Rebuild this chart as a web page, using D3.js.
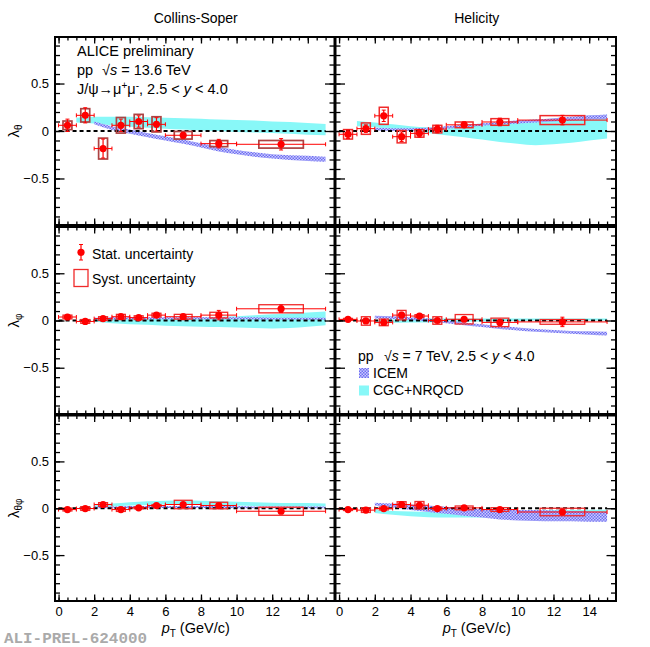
<!DOCTYPE html>
<html><head><meta charset="utf-8">
<script src="https://cdn.jsdelivr.net/npm/d3@7"></script>
<style>
body{margin:0;background:#fff}
svg{display:block}
text{font-family:"Liberation Sans",Arial,Helvetica,sans-serif}
</style>
</head><body><div id="chart"></div>
<script>
// ---------------- DATA ----------------
const ptCenters = [0.5, 1.5, 2.5, 3.5, 4.5, 5.5, 7, 9, 12.5];
const binLow    = [0, 1, 2, 3, 4, 5, 6, 8, 10];
const binHigh   = [1, 2, 3, 4, 5, 6, 8, 10, 15];

// Collins-Soper lambda_theta
const csThVal  = [0.06, 0.165, -0.185, 0.06, 0.10, 0.07, -0.045, -0.133, -0.14];
const csThStat = [0.065, 0.08, 0.10, 0.065, 0.06, 0.07, 0.03, 0.045, 0.06];
const csThSyst = [0.045, 0.07, 0.11, 0.082, 0.075, 0.08, 0.04, 0.032, 0.04];
// Helicity lambda_theta
const hxThVal  = [-0.035, 0.025, 0.16, -0.06, -0.025, 0.02, 0.065, 0.095, 0.115];
const hxThStat = [0.045, 0.04, 0.06, 0.05, 0.04, 0.04, 0.03, 0.04, 0.05];
const hxThSyst = [0.05, 0.06, 0.09, 0.065, 0.04, 0.04, 0.03, 0.035, 0.047];
// Collins-Soper lambda_phi
const csPhVal  = [0.037, -0.01, 0.02, 0.04, 0.03, 0.057, 0.04, 0.057, 0.124];
const csPhStat = [0.02, 0.02, 0.02, 0.02, 0.02, 0.02, 0.02, 0.05, 0.04];
const csPhSyst = [0.02, 0.02, 0.02, 0.025, 0.02, 0.02, 0.025, 0.03, 0.043];
// Helicity lambda_phi
const hxPhVal  = [0.012, -0.005, -0.02, 0.057, 0.047, 0.0, 0.013, -0.02, -0.015];
const hxPhStat = [0.02, 0.02, 0.02, 0.03, 0.02, 0.02, 0.02, 0.03, 0.05];
const hxPhSyst = [0.01, 0.045, 0.035, 0.05, 0.015, 0.04, 0.05, 0.045, 0.025];
// Collins-Soper lambda_thetaphi
const csTpVal  = [-0.014, -0.003, 0.04, -0.014, 0.004, 0.029, 0.04, 0.029, -0.032];
const csTpStat = [0.015, 0.015, 0.015, 0.015, 0.015, 0.015, 0.02, 0.02, 0.025];
const csTpSyst = [0.015, 0.02, 0.02, 0.02, 0.01, 0.01, 0.045, 0.035, 0.043];
// Helicity lambda_thetaphi
const hxTpVal  = [-0.014, -0.02, -0.003, 0.04, 0.032, -0.003, 0.004, -0.014, -0.04];
const hxTpStat = [0.015, 0.015, 0.015, 0.02, 0.02, 0.015, 0.015, 0.02, 0.03];
const hxTpSyst = [0.01, 0.025, 0.015, 0.03, 0.04, 0.015, 0.02, 0.02, 0.04];

// Model bands (pp 7 TeV)
const cgcPtTop = [1, 2, 3, 4, 5, 6, 7, 8, 9, 10, 11, 12, 13, 14, 15];
const modelPt  = [2, 3, 4, 5, 6, 7, 8, 9, 10, 11, 12, 13, 14, 15];

const csThCgcHi  = [0.14, 0.15, 0.15, 0.15, 0.145, 0.14, 0.135, 0.13, 0.12, 0.115, 0.11, 0.10, 0.095, 0.085, 0.075];
const csThCgcLo  = [0.09, 0.08, 0.06, 0.045, 0.035, 0.025, 0.015, 0.005, 0.0, -0.01, -0.015, -0.02, -0.03, -0.04, -0.045];
const csThIcemHi = [0.10, 0.05, 0.015, -0.02, -0.055, -0.09, -0.13, -0.165, -0.20, -0.225, -0.245, -0.255, -0.26, -0.27];
const csThIcemLo = [0.07, 0.01, -0.03, -0.065, -0.10, -0.135, -0.175, -0.215, -0.245, -0.27, -0.29, -0.305, -0.315, -0.325];

const hxThCgcHi  = [0.105, 0.09, 0.07, 0.05, 0.04, 0.04, 0.06, 0.08, 0.09, 0.11, 0.12, 0.13, 0.14, 0.16, 0.17];
const hxThCgcLo  = [0.05, 0.04, 0.02, 0.0, -0.02, -0.045, -0.065, -0.09, -0.115, -0.135, -0.15, -0.14, -0.125, -0.10, -0.08];
const hxThIcemHi = [0.035, 0.03, 0.03, 0.035, 0.05, 0.065, 0.08, 0.095, 0.11, 0.12, 0.135, 0.15, 0.165, 0.175];
const hxThIcemLo = [0.005, 0.0, 0.0, 0.01, 0.025, 0.04, 0.055, 0.07, 0.08, 0.09, 0.10, 0.11, 0.12, 0.13];

const csPhCgcHi  = [0.01, 0.015, 0.02, 0.022, 0.025, 0.028, 0.032, 0.038, 0.045, 0.055, 0.065, 0.075, 0.085, 0.095];
const csPhCgcLo  = [-0.01, -0.03, -0.04, -0.045, -0.055, -0.06, -0.065, -0.07, -0.075, -0.08, -0.085, -0.08, -0.065, -0.05];
const csPhIcemHi = [0.03, 0.035, 0.035, 0.035, 0.035, 0.035, 0.035, 0.035, 0.035, 0.035, 0.03, 0.03, 0.03, 0.03];
const csPhIcemLo = [0.01, 0.01, 0.012, 0.012, 0.012, 0.012, 0.012, 0.012, 0.012, 0.01, 0.01, 0.01, 0.008, 0.008];

const hxPhCgcHi  = [0.0, 0.01, 0.015, 0.02, 0.02, 0.02, 0.02, 0.02, 0.02, 0.02, 0.02, 0.02, 0.02, 0.02];
const hxPhCgcLo  = [-0.025, -0.025, -0.02, -0.02, -0.015, -0.01, -0.01, -0.005, -0.005, 0.0, 0.0, 0.0, 0.0, 0.0];
const hxPhIcemHi = [0.05, 0.045, 0.035, 0.02, 0.0, -0.02, -0.04, -0.06, -0.075, -0.09, -0.10, -0.11, -0.115, -0.12];
const hxPhIcemLo = [0.02, 0.015, 0.005, -0.01, -0.03, -0.05, -0.07, -0.09, -0.105, -0.12, -0.13, -0.14, -0.15, -0.16];

const csTpCgcHi  = [0.03, 0.05, 0.065, 0.075, 0.08, 0.085, 0.08, 0.075, 0.07, 0.065, 0.06, 0.055, 0.055, 0.05];
const csTpCgcLo  = [0.01, 0.02, 0.03, 0.035, 0.04, 0.04, 0.035, 0.03, 0.03, 0.025, 0.025, 0.02, 0.02, 0.02];
const csTpIcemHi = [0.02, 0.02, 0.025, 0.025, 0.025, 0.025, 0.025, 0.025, 0.025, 0.02, 0.02, 0.02, 0.02, 0.02];
const csTpIcemLo = [0.0, 0.0, 0.0, 0.002, 0.002, 0.002, 0.002, 0.002, 0.0, 0.0, 0.0, 0.0, 0.0, 0.0];

const hxTpCgcHi  = [-0.02, -0.03, -0.035, -0.04, -0.04, -0.04, -0.035, -0.03, -0.03, -0.025, -0.02, -0.02, -0.015, -0.015];
const hxTpCgcLo  = [-0.05, -0.07, -0.085, -0.095, -0.10, -0.10, -0.10, -0.10, -0.095, -0.09, -0.09, -0.085, -0.08, -0.08];
const hxTpIcemHi = [0.06, 0.05, 0.04, 0.03, 0.015, 0.0, -0.01, -0.015, -0.02, -0.02, -0.025, -0.03, -0.035, -0.04];
const hxTpIcemLo = [0.03, 0.01, -0.02, -0.04, -0.06, -0.08, -0.10, -0.12, -0.13, -0.135, -0.14, -0.14, -0.145, -0.145];

// Axis ticks / labels
const xTickLabels = [0, 2, 4, 6, 8, 10, 12, 14];
const yTickLabels = [-0.5, 0, 0.5];
const frameTitles = ["Collins-Soper", "Helicity"];
const yTitleSubs  = ["θ", "φ", "θφ"];

// ---------------- LAYOUT ----------------
const W = 650, H = 647;
const colX = [[55, 334.5], [335.5, 616]];
const rowY = [[37, 225], [227, 414], [415.5, 601]];
const xDomain = [-0.2, 15.5], yDomain = [-0.99, 0.99];

const svg = d3.select("#chart").append("svg").attr("width", W).attr("height", H);
svg.append("rect").attr("width", W).attr("height", H).attr("fill", "#fff");
const defs = svg.append("defs");
const pat = defs.append("pattern").attr("id", "icemPat").attr("patternUnits", "userSpaceOnUse")
  .attr("width", 3).attr("height", 3);
pat.append("rect").attr("width", 3).attr("height", 3).attr("fill", "#cbcbfd");
pat.append("rect").attr("width", 1.5).attr("height", 1.5).attr("fill", "#6e6ef2");
pat.append("rect").attr("x", 1.5).attr("y", 1.5).attr("width", 1.5).attr("height", 1.5).attr("fill", "#6e6ef2");

const CYAN = "#88f8f8";
const FONT = "Liberation Sans, Arial, sans-serif";

const panels = [
  {col:0,row:0,val:csThVal,stat:csThStat,syst:csThSyst,cgcPt:cgcPtTop,cgcHi:csThCgcHi,cgcLo:csThCgcLo,icHi:csThIcemHi,icLo:csThIcemLo,box:"#ad4242",bw:1.7},
  {col:1,row:0,val:hxThVal,stat:hxThStat,syst:hxThSyst,cgcPt:cgcPtTop,cgcHi:hxThCgcHi,cgcLo:hxThCgcLo,icHi:hxThIcemHi,icLo:hxThIcemLo,box:"#f02a2a",bw:1.5},
  {col:0,row:1,val:csPhVal,stat:csPhStat,syst:csPhSyst,cgcPt:modelPt,cgcHi:csPhCgcHi,cgcLo:csPhCgcLo,icHi:csPhIcemHi,icLo:csPhIcemLo,box:"#f02a2a",bw:1.3},
  {col:1,row:1,val:hxPhVal,stat:hxPhStat,syst:hxPhSyst,cgcPt:modelPt,cgcHi:hxPhCgcHi,cgcLo:hxPhCgcLo,icHi:hxPhIcemHi,icLo:hxPhIcemLo,box:"#f02a2a",bw:1.3},
  {col:0,row:2,val:csTpVal,stat:csTpStat,syst:csTpSyst,cgcPt:modelPt,cgcHi:csTpCgcHi,cgcLo:csTpCgcLo,icHi:csTpIcemHi,icLo:csTpIcemLo,box:"#f02a2a",bw:1.3},
  {col:1,row:2,val:hxTpVal,stat:hxTpStat,syst:hxTpSyst,cgcPt:modelPt,cgcHi:hxTpCgcHi,cgcLo:hxTpCgcLo,icHi:hxTpIcemHi,icLo:hxTpIcemLo,box:"#f02a2a",bw:1.3},
];

function styleAxis(g, w) {
  g.select(".domain").remove();
  g.selectAll(".tick line").attr("stroke", "#000").attr("stroke-width", w || 1.3);
}

panels.forEach((p, i) => {
  const [x0, x1] = colX[p.col];
  const [y0, y1] = rowY[p.row];
  const x = d3.scaleLinear().domain(xDomain).range([x0, x1]);
  const y = d3.scaleLinear().domain(yDomain).range([y1, y0]);

  const clipId = "clip" + i;
  defs.append("clipPath").attr("id", clipId).append("rect")
    .attr("x", x0).attr("y", y0).attr("width", x1 - x0).attr("height", y1 - y0);
  const g = svg.append("g").attr("clip-path", `url(#${clipId})`);

  const area = d3.area().curve(d3.curveMonotoneX)
    .x(d => x(d.pt)).y0(d => y(d.lo)).y1(d => y(d.hi));
  const cgc = p.cgcPt.map((pt, k) => ({pt, lo: p.cgcLo[k], hi: p.cgcHi[k]}));
  const icem = modelPt.map((pt, k) => ({pt, lo: p.icLo[k], hi: p.icHi[k]}));
  g.append("path").datum(cgc).attr("d", area).attr("fill", CYAN);
  g.append("path").datum(icem).attr("d", area).attr("fill", "url(#icemPat)");

  // zero dashed line
  g.append("line").attr("x1", x(0)).attr("x2", x(15)).attr("y1", y(0)).attr("y2", y(0))
    .attr("stroke", "#000").attr("stroke-width", 2).attr("stroke-dasharray", "4,3");

  const pts = ptCenters.map((pt, k) => ({pt, lo: binLow[k], hi: binHigh[k], v: p.val[k], s: p.stat[k], sy: p.syst[k]}));
  // syst boxes
  g.selectAll(".sys").data(pts).enter().append("rect")
    .attr("x", d => x(d.pt - (d.hi - d.lo) / 4))
    .attr("width", d => x(d.pt + (d.hi - d.lo) / 4) - x(d.pt - (d.hi - d.lo) / 4))
    .attr("y", d => y(d.v + d.sy))
    .attr("height", d => y(d.v - d.sy) - y(d.v + d.sy))
    .attr("fill", "none").attr("stroke", p.box).attr("stroke-width", p.bw);
  // horizontal error bars
  const red = "#ff0000";
  g.selectAll(".xe").data(pts).enter().append("line")
    .attr("x1", d => x(d.lo)).attr("x2", d => x(d.hi))
    .attr("y1", d => y(d.v)).attr("y2", d => y(d.v))
    .attr("stroke", red).attr("stroke-width", 1);
  g.selectAll(".xc1").data(pts).enter().append("line")
    .attr("x1", d => x(d.lo)).attr("x2", d => x(d.lo))
    .attr("y1", d => y(d.v) - 2).attr("y2", d => y(d.v) + 2)
    .attr("stroke", red).attr("stroke-width", 1);
  g.selectAll(".xc2").data(pts).enter().append("line")
    .attr("x1", d => x(d.hi)).attr("x2", d => x(d.hi))
    .attr("y1", d => y(d.v) - 2).attr("y2", d => y(d.v) + 2)
    .attr("stroke", red).attr("stroke-width", 1);
  // vertical stat error bars
  g.selectAll(".ye").data(pts).enter().append("line")
    .attr("x1", d => x(d.pt)).attr("x2", d => x(d.pt))
    .attr("y1", d => y(d.v + d.s)).attr("y2", d => y(d.v - d.s))
    .attr("stroke", red).attr("stroke-width", 1.2);
  g.selectAll(".yc1").data(pts).enter().append("line")
    .attr("x1", d => x(d.pt) - 2).attr("x2", d => x(d.pt) + 2)
    .attr("y1", d => y(d.v + d.s)).attr("y2", d => y(d.v + d.s))
    .attr("stroke", red).attr("stroke-width", 1);
  g.selectAll(".yc2").data(pts).enter().append("line")
    .attr("x1", d => x(d.pt) - 2).attr("x2", d => x(d.pt) + 2)
    .attr("y1", d => y(d.v - d.s)).attr("y2", d => y(d.v - d.s))
    .attr("stroke", red).attr("stroke-width", 1);
  g.selectAll(".mk").data(pts).enter().append("circle")
    .attr("cx", d => x(d.pt)).attr("cy", d => y(d.v)).attr("r", 3.6).attr("fill", red);

  // ticks (inward on all sides)
  const xMinor = d3.range(0, 15.01, 0.5);
  const yMinor = d3.range(-9, 10, 1).map(v => v / 10);
  svg.append("g").attr("transform", `translate(0,${y1})`)
    .call(d3.axisBottom(x).tickValues(xMinor).tickSize(-3.5).tickFormat("")).call(a => styleAxis(a));
  svg.append("g").attr("transform", `translate(0,${y0})`)
    .call(d3.axisTop(x).tickValues(xMinor).tickSize(-3.5).tickFormat("")).call(a => styleAxis(a));
  svg.append("g").attr("transform", `translate(0,${y0})`)
    .call(d3.axisTop(x).tickValues(xTickLabels).tickSize(-6.5).tickFormat("")).call(a => styleAxis(a));
  const xb = svg.append("g").attr("transform", `translate(0,${y1})`)
    .call(d3.axisBottom(x).tickValues(xTickLabels).tickSize(-6.5).tickPadding(5.5)
      .tickFormat(p.row === 2 ? d3.format("d") : ""));
  styleAxis(xb);
  xb.selectAll("text").attr("font-size", 13).attr("font-family", FONT).attr("fill", "#000");

  svg.append("g").attr("transform", `translate(${x0},0)`)
    .call(d3.axisLeft(y).tickValues(yMinor).tickSize(-5).tickFormat("")).call(a => styleAxis(a));
  svg.append("g").attr("transform", `translate(${x1},0)`)
    .call(d3.axisRight(y).tickValues(yMinor).tickSize(-5).tickFormat("")).call(a => styleAxis(a));
  svg.append("g").attr("transform", `translate(${x1},0)`)
    .call(d3.axisRight(y).tickValues(yTickLabels).tickSize(-9.5).tickFormat("")).call(a => styleAxis(a));
  const yl = svg.append("g").attr("transform", `translate(${x0},0)`)
    .call(d3.axisLeft(y).tickValues(yTickLabels).tickSize(-9.5).tickPadding(6)
      .tickFormat(p.col === 0 ? (v => v === 0 ? "0" : d3.format(".1f")(v)) : ""));
  styleAxis(yl);
  yl.selectAll("text").attr("font-size", 13).attr("font-family", FONT).attr("fill", "#000");

  // frame
  svg.append("rect").attr("x", x0).attr("y", y0).attr("width", x1 - x0).attr("height", y1 - y0)
    .attr("fill", "none").attr("stroke", "#000").attr("stroke-width", 2);

  // y title on left panels
  if (p.col === 0) {
    const yc = (y0 + y1) / 2;
    const t = svg.append("text").attr("transform", `translate(19,${yc}) rotate(-90)`)
      .attr("text-anchor", "middle").attr("font-size", 15).attr("fill", "#000").text("λ");
    t.append("tspan").attr("font-size", 10).attr("dy", 3).text(yTitleSubs[p.row]);
  }
  // x title on bottom panels
  if (p.row === 2) {
    const xc = (x0 + x1) / 2;
    const t = svg.append("text").attr("x", xc + 1).attr("y", 633).attr("text-anchor", "middle")
      .attr("font-size", 14.5).attr("fill", "#000");
    t.append("tspan").attr("font-style", "italic").text("p");
    t.append("tspan").attr("font-size", 10).attr("dy", 4).text("T");
    t.append("tspan").attr("dy", -4).text(" (GeV/c)");
  }
  if (p.row === 0) {
    svg.append("text").attr("x", (x0 + x1) / 2 + 1).attr("y", 23).attr("text-anchor", "middle")
      .attr("font-size", 14).attr("fill", "#000").text(frameTitles[p.col]);
  }
});

// ---------- Legends / texts ----------
const fs = 14.5;
svg.append("text").attr("x", 77).attr("y", 56).attr("font-size", fs).attr("fill", "#000").text("ALICE preliminary");
const l2 = svg.append("text").attr("x", 77).attr("y", 75).attr("font-size", fs).attr("fill", "#000");
l2.append("tspan").text("pp");
l2.append("tspan").attr("x", 102).text("√");
l2.append("tspan").attr("font-style", "italic").text("s");
l2.append("tspan").text(" = 13.6 TeV");
const l3 = svg.append("text").attr("x", 77).attr("y", 93.5).attr("font-size", fs).attr("fill", "#000");
l3.append("tspan").text("J/ψ→μ");
l3.append("tspan").attr("font-size", 10).attr("dy", -5).text("+");
l3.append("tspan").attr("dy", 5).text("μ");
l3.append("tspan").attr("font-size", 10).attr("dy", -5).text("-");
l3.append("tspan").attr("dy", 5).text(", 2.5 < ");
l3.append("tspan").attr("font-style", "italic").text("y");
l3.append("tspan").text(" < 4.0");

// Stat / Syst legend
svg.append("line").attr("x1", 81).attr("x2", 81).attr("y1", 244.5).attr("y2", 260).attr("stroke", "#ff0000").attr("stroke-width", 1.2);
svg.append("line").attr("x1", 79).attr("x2", 83).attr("y1", 244.5).attr("y2", 244.5).attr("stroke", "#ff0000");
svg.append("line").attr("x1", 79).attr("x2", 83).attr("y1", 260).attr("y2", 260).attr("stroke", "#ff0000");
svg.append("circle").attr("cx", 81).attr("cy", 252.3).attr("r", 3.6).attr("fill", "#ff0000");
svg.append("text").attr("x", 92).attr("y", 258.5).attr("font-size", 14).attr("fill", "#000").text("Stat. uncertainty");
svg.append("rect").attr("x", 74).attr("y", 269.5).attr("width", 14).attr("height", 17)
  .attr("fill", "none").attr("stroke", "#f02a2a").attr("stroke-width", 1.3);
svg.append("text").attr("x", 92).attr("y", 283.5).attr("font-size", 14).attr("fill", "#000").text("Syst. uncertainty");

// Model legend
const m1 = svg.append("text").attr("x", 358).attr("y", 360.5).attr("font-size", 14).attr("fill", "#000");
m1.append("tspan").text("pp");
m1.append("tspan").attr("x", 384).text("√");
m1.append("tspan").attr("font-style", "italic").text("s");
m1.append("tspan").text(" = 7 TeV, 2.5 < ");
m1.append("tspan").attr("font-style", "italic").text("y");
m1.append("tspan").text(" < 4.0");
svg.append("rect").attr("x", 359).attr("y", 368).attr("width", 10).attr("height", 10).attr("fill", "url(#icemPat)");
svg.append("text").attr("x", 373).attr("y", 377.5).attr("font-size", 14).attr("fill", "#000").text("ICEM");
svg.append("rect").attr("x", 359).attr("y", 385.5).attr("width", 10).attr("height", 10).attr("fill", CYAN);
svg.append("text").attr("x", 373).attr("y", 394.5).attr("font-size", 14).attr("fill", "#000").text("CGC+NRQCD");

// Watermark
svg.append("text").attr("x", 4).attr("y", 643)
  .style("font-family", "'Liberation Mono', 'DejaVu Sans Mono', monospace")
  .style("font-weight", "bold").style("font-size", "15px").style("fill", "#aaaaaa")
  .attr("textLength", 143).attr("lengthAdjust", "spacingAndGlyphs").text("ALI-PREL-624000");
</script>
</body></html>
